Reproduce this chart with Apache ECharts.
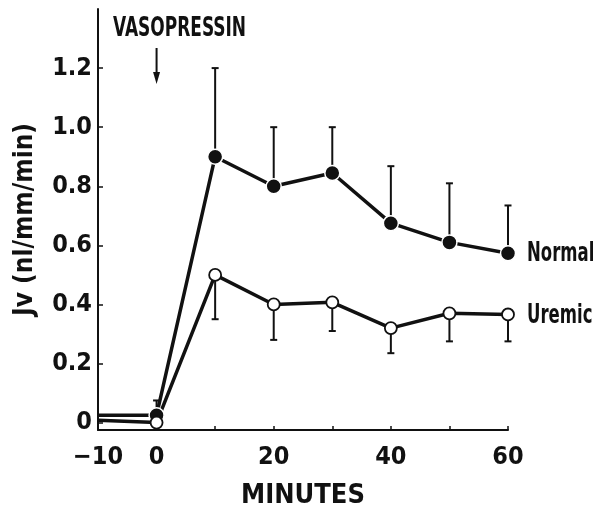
<!DOCTYPE html>
<html>
<head>
<meta charset="utf-8">
<script src="https://cdn.jsdelivr.net/npm/echarts@6/dist/echarts.min.js"></script>
<style>
  html, body { margin: 0; padding: 0; background: #fff; }
  #chart { width: 602px; height: 523px; }
</style>
</head>
<body>
<div id="chart"></div>
<script>
// values
var minutes = [-10, 0, 10, 20, 30, 40, 50, 60]
var normalMean = [0.025, 0.025, 0.90, 0.80, 0.845, 0.675, 0.61, 0.573]
var normalUpper = [null, 0.075, 1.2, 1.0, 1.0, 0.868, 0.81, 0.735]
var uremicMean = [0.008, 0.0, 0.50, 0.40, 0.407, 0.32, 0.37, 0.366]
var uremicLower = [null, null, 0.35, 0.28, 0.31, 0.235, 0.275, 0.275]
var yTicks = [0, 0.2, 0.4, 0.6, 0.8, 1.0, 1.2]
var xLabels = [-10, 0, 20, 40, 60]

var FONT = '"DejaVu Sans Condensed", "DejaVu Sans", sans-serif'

function lineData (means) {
  return minutes.map(function (m, i) {
    var item = { value: [m, means[i]] }
    if (m < 0) item.symbol = 'none'
    return item
  })
}

function errData (means, ends) {
  var out = []
  minutes.forEach(function (m, i) {
    if (ends[i] !== null) out.push([m, means[i], ends[i]])
  })
  return out
}

function renderErr (params, api) {
  var p0 = api.coord([api.value(0), api.value(1)])
  var p1 = api.coord([api.value(0), api.value(2)])
  var style = { stroke: '#111', lineWidth: 2 }
  return {
    type: 'group',
    children: [
      { type: 'line', shape: { x1: p0[0], y1: p0[1], x2: p1[0], y2: p1[1] }, style: style },
      { type: 'line', shape: { x1: p1[0] - 3.5, y1: p1[1], x2: p1[0] + 3.5, y2: p1[1] }, style: style }
    ]
  }
}

// narrow bold text, squeezed horizontally like the typeset original
function label (text, x, y, scaleX) {
  return {
    type: 'text',
    x: x,
    y: y,
    scaleX: scaleX,
    style: {
      text: text,
      font: 'bold 27px ' + FONT,
      fill: '#111',
      textAlign: 'left',
      textVerticalAlign: 'middle'
    }
  }
}

var myChart = echarts.init(document.getElementById('chart'))
myChart.setOption({
  animation: false,
  backgroundColor: '#fff',
  grid: { left: 98, right: 94, top: 9, bottom: 93 },
  xAxis: {
    type: 'value',
    min: -10,
    max: 60,
    interval: 10,
    name: 'MINUTES',
    nameLocation: 'middle',
    nameGap: 52,
    nameTextStyle: { fontFamily: FONT, fontWeight: 'bold', fontSize: 27, color: '#111' },
    axisLine: { onZero: false, lineStyle: { color: '#111', width: 2 } },
    axisTick: { inside: true, length: 4, lineStyle: { color: '#111', width: 1.5 } },
    axisLabel: {
      margin: 15,
      fontFamily: FONT,
      fontWeight: 'bold',
      fontSize: 25,
      color: '#111',
      formatter: function (v) {
        if (xLabels.indexOf(v) < 0) return ''
        return v < 0 ? '\u2212' + Math.abs(v) : String(v)
      }
    },
    splitLine: { show: false }
  },
  yAxis: {
    type: 'value',
    min: -0.025,
    max: 1.4,
    name: 'Jv (nl/mm/min)',
    nameLocation: 'middle',
    nameRotate: 90,
    nameGap: 60,
    nameTextStyle: { fontFamily: FONT, fontWeight: 'bold', fontSize: 26, color: '#111' },
    axisLine: { show: true, onZero: false, lineStyle: { color: '#111', width: 2 } },
    axisTick: { show: true, inside: true, length: 5, customValues: yTicks, lineStyle: { color: '#111', width: 1.5 } },
    axisLabel: {
      margin: 6,
      customValues: yTicks,
      fontFamily: FONT,
      fontWeight: 'bold',
      fontSize: 25,
      color: '#111',
      formatter: function (v) {
        return v === 0 ? '0' : v.toFixed(1)
      }
    },
    splitLine: { show: false }
  },
  series: [
    {
      name: 'NormalErr',
      type: 'custom',
      renderItem: renderErr,
      data: errData(normalMean, normalUpper),
      z: 1
    },
    {
      name: 'UremicErr',
      type: 'custom',
      renderItem: renderErr,
      data: errData(uremicMean, uremicLower),
      z: 1
    },
    {
      name: 'Normal',
      type: 'line',
      data: lineData(normalMean),
      symbol: 'circle',
      symbolSize: 15,
      clip: false,
      z: 3,
      lineStyle: { color: '#111', width: 3.5 },
      itemStyle: { color: '#111', borderColor: '#fff', borderWidth: 1.5 }
    },
    {
      name: 'Uremic',
      type: 'line',
      data: lineData(uremicMean),
      symbol: 'circle',
      symbolSize: 12,
      clip: false,
      z: 3,
      lineStyle: { color: '#111', width: 3.5 },
      itemStyle: { color: '#fff', borderColor: '#111', borderWidth: 1.8 }
    }
  ]
})

// annotations: dose arrow at time 0 and series names beside the last points
var last = minutes.length - 1
var ax = myChart.convertToPixel({ xAxisIndex: 0 }, 0)
var pN = myChart.convertToPixel({ seriesIndex: 2 }, [minutes[last], normalMean[last]])
var pU = myChart.convertToPixel({ seriesIndex: 3 }, [minutes[last], uremicMean[last]])
myChart.setOption({
  graphic: [
    label('VASOPRESSIN', 113, 29, 0.70),
    label('Normal', pN[0] + 19, pN[1] + 1, 0.68),
    label('Uremic', pU[0] + 19, pU[1] + 2, 0.68),
    {
      type: 'line',
      shape: { x1: ax, y1: 48, x2: ax, y2: 76 },
      style: { stroke: '#111', lineWidth: 2 }
    },
    {
      type: 'polygon',
      shape: { points: [[ax - 3.5, 72], [ax + 3.5, 72], [ax, 84]] },
      style: { fill: '#111' }
    }
  ]
})
</script>
</body>
</html>
